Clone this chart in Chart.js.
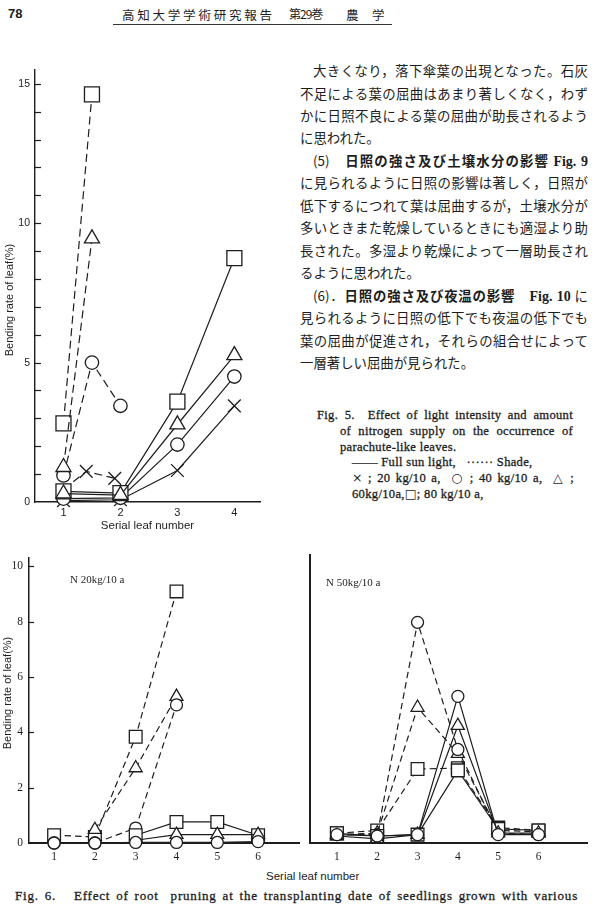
<!DOCTYPE html>
<html lang="ja">
<head>
<meta charset="utf-8">
<title>Fig. 5 / Fig. 6</title>
<script src="https://cdn.jsdelivr.net/npm/chart.js@4.4.1/dist/chart.umd.min.js"></script>
<style>
  html, body { margin: 0; padding: 0; background: #fff; }
  body { width: 598px; height: 907px; position: relative; overflow: hidden; color: #1d1d1d; }
  canvas { position: absolute; }
  .t { position: absolute; white-space: nowrap; }
  .jp { font-family: "Noto Sans CJK JP", sans-serif; font-size: 13.4px; line-height: 22px; height: 22px;
        text-align: justify; text-align-last: justify; }
  .jp.short { text-align-last: left; }
  .jp b { font-weight: 700; }
  .jp .f { font-family: "Liberation Serif", serif; font-weight: 700; font-size: 14px; }
  .en { font-family: "Liberation Serif", serif; font-size: 12.6px; line-height: 16px; height: 16px;
        text-align: justify; text-align-last: justify; -webkit-text-stroke: 0.3px #1d1d1d; letter-spacing: 0.3px; }
  .en.short { text-align-last: left; }
  .en .s { font-family: "DejaVu Sans", sans-serif; font-size: 12.5px; -webkit-text-stroke: 0; }
  .lab { font-family: "Liberation Serif", serif; font-size: 11px; line-height: 14px; }
</style>
</head>
<body>

<!-- page header -->
<div class="t" style="left:8px;top:6px;font:bold 13px 'Liberation Sans',sans-serif;">78</div>
<div class="t" style="left:122px;top:5px;width:150px;font:12.5px 'Noto Sans CJK JP';text-align:justify;text-align-last:justify;">高知大学学術研究報告</div>
<div class="t" style="left:289px;top:5px;font:12px 'Noto Sans CJK JP';letter-spacing:-1px;">第29巻</div>
<div class="t" style="left:346px;top:5px;font:12.5px 'Noto Sans CJK JP';">農</div>
<div class="t" style="left:372px;top:5px;font:12.5px 'Noto Sans CJK JP';">学</div>
<div class="t" style="left:113px;top:24px;width:279px;border-top:1.2px solid #333;"></div>

<!-- body text -->
<div class="t jp" style="left:313px;top:59px;width:275px;">大きくなり，落下傘葉の出現となった。石灰</div>
<div class="t jp" style="left:300px;top:81.5px;width:288px;">不足による葉の屈曲はあまり著しくなく，わず</div>
<div class="t jp" style="left:300px;top:104px;width:288px;">かに日照不良による葉の屈曲が助長されるよう</div>
<div class="t jp short" style="left:300px;top:126.4px;">に思われた。</div>
<div class="t jp" style="left:313px;top:148.8px;width:275px;">(5)　<b>日照の強さ及び土壌水分の影響</b> <span class="f">Fig. 9</span></div>
<div class="t jp" style="left:300px;top:171.3px;width:288px;">に見られるように日照の影響は著しく，日照が</div>
<div class="t jp" style="left:300px;top:193.8px;width:288px;">低下するにつれて葉は屈曲するが，土壌水分が</div>
<div class="t jp" style="left:300px;top:216.2px;width:288px;">多いときまた乾燥しているときにも適湿より助</div>
<div class="t jp" style="left:300px;top:238.7px;width:288px;">長された。多湿より乾燥によって一層助長され</div>
<div class="t jp short" style="left:300px;top:261.1px;">るように思われた。</div>
<div class="t jp" style="left:313px;top:283.6px;width:275px;">(6)．<b>日照の強さ及び夜温の影響</b>　<span class="f">Fig. 10</span> に</div>
<div class="t jp" style="left:300px;top:306px;width:288px;">見られるように日照の低下でも夜温の低下でも</div>
<div class="t jp" style="left:300px;top:328.5px;width:288px;">葉の屈曲が促進され，それらの組合せによって</div>
<div class="t jp short" style="left:300px;top:351px;">一層著しい屈曲が見られた。</div>

<!-- Fig. 5 caption -->
<div class="t en" style="left:317px;top:407px;width:256px;">Fig. 5.&nbsp; Effect of light intensity and amount</div>
<div class="t en" style="left:340px;top:423px;width:233px;">of nitrogen supply on the occurrence of</div>
<div class="t en short" style="left:340px;top:438.6px;">parachute-like leaves.</div>
<div class="t en short" style="left:352px;top:454.4px;">—— Full sun light,&nbsp;&nbsp; ······ Shade,</div>
<div class="t en" style="left:352px;top:470.2px;width:222px;"><span class="s">×</span> ; 20 kg/10 a,&nbsp; <span class="s">○</span> ; 40 kg/10 a,&nbsp; <span class="s">△</span> ;</div>
<div class="t en short" style="left:352px;top:486px;">60kg/10a,<span class="s">□</span>; 80 kg/10 a,</div>

<canvas id="fig5" width="280" height="477" style="left:0;top:58px;"></canvas>
<canvas id="fig6a" width="310" height="322" style="left:0;top:545px;"></canvas>
<canvas id="fig6b" width="298" height="322" style="left:300px;top:545px;"></canvas>

<div class="t lab" style="left:70px;top:572px;">N 20kg/10 a</div>
<div class="t lab" style="left:326px;top:575px;">N 50kg/10 a</div>
<div class="t" style="left:266px;top:870px;font:11.5px 'Liberation Sans',sans-serif;">Serial leaf number</div>
<div class="t en" style="left:15px;top:888px;width:563px;font-size:13px;letter-spacing:0.8px;">Fig. 6.&nbsp;&nbsp; Effect of root&nbsp; pruning at the transplanting date of seedlings grown with various</div>

<script>
// ---------- Fig. 5 data ----------
const fig5Leaves = [1, 2, 3, 4];
const fig5YTicks = [0, 1, 2, 3, 4, 5, 6, 7, 8, 9, 10, 11, 12, 13, 14, 15];
// full sun light (solid)
const sunCross    = [0.05, 0.08, 1.13, 3.45];
const sunCircle   = [0.12, 0.15, 2.06, 4.5];
const sunTriangle = [0.3, 0.25, 2.78, 5.26];
const sunSquare   = [0.38, 0.32, 3.6, 8.75];
// shade (dashed)
const shadeLeaves      = [1, 1.5, 2];
const shadeCrossLeaves = [1, 1.4, 1.9];
const shadeCross    = [0.45, 1.1, 0.85];
const shadeCircle   = [0.95, 5.0, 3.45];
const shadeTriangle = [1.25, 9.45, null];
const shadeSquare   = [2.82, 14.62, null];

// ---------- Fig. 6 data ----------
const fig6Leaves = [1, 2, 3, 4, 5, 6];
const fig6YTicks = [0, 2, 4, 6, 8, 10];
// N 20kg/10 a
const n20DashSquare   = [0.28, 0.22, 3.84, 9.09, null, null];
const n20DashTriangle = [null, 0.48, 2.71, 5.29, null, null];
const n20DashCircle   = [0, 0, 0.54, 4.99, null, null];
const n20SunSquare    = [null, null, 0.28, 0.76, 0.76, 0.28];
const n20SunTriangle  = [null, null, 0.1, 0.3, 0.3, 0.3];
const n20SunCircle    = [0, 0, 0.02, 0.02, 0.02, 0.05];
// N 50kg/10 a
const n50DashCircle   = [0.3, 0.3, 7.9, 3.35, 0.35, 0.3];
const n50DashTriangle = [0.3, 0.35, 4.85, 3.2, 0.45, 0.4];
const n50DashSquare   = [0.35, 0.45, 2.65, 2.68, 0.55, 0.45];
const n50SunCircle    = [0.3, 0.25, 0.3, 5.25, 0.3, 0.3];
const n50SunTriangle  = [0.25, 0.15, 0.3, 4.2, 0.35, 0.35];
const n50SunSquare    = [0.35, 0.25, 0.3, 2.6, 0.5, 0.45];

const INK = '#1d1d1d';

// one line with its markers
function series(xs, ys, style, size, dash) {
    return {
        data: xs.map((x, i) => ({ x: x, y: ys[i] })),
        borderColor: INK,
        borderWidth: 1.2,
        borderDash: dash || [],
        pointStyle: style,
        pointRadius: size,
        pointHoverRadius: size,
        pointBorderColor: INK,
        pointBackgroundColor: '#fff',
        pointBorderWidth: 1.3,
        fill: false,
        tension: 0,
        clip: false
    };
}

// short tick marks pointing into the plot
const inTicks = {
    id: 'inTicks',
    afterDraw(chart, args, opts) {
        if (!opts.len) return;
        const { ctx, chartArea } = chart;
        const y = chart.scales.y;
        ctx.save();
        ctx.strokeStyle = INK;
        ctx.lineWidth = 1.2;
        y.ticks.forEach(t => {
            if (t.value === 0) return;
            const py = Math.round(y.getPixelForValue(t.value)) + 0.5;
            ctx.beginPath();
            ctx.moveTo(chartArea.left, py);
            ctx.lineTo(chartArea.left + opts.len, py);
            ctx.stroke();
        });
        ctx.restore();
    }
};

// rotated y-axis title, placed where the printed one sits
const sideTitle = {
    id: 'sideTitle',
    afterDraw(chart, args, opts) {
        if (!opts.text) return;
        const ctx = chart.ctx;
        ctx.save();
        ctx.translate(opts.x, opts.y);
        ctx.rotate(-Math.PI / 2);
        ctx.fillStyle = INK;
        ctx.font = opts.font;
        ctx.textAlign = 'center';
        ctx.textBaseline = 'middle';
        ctx.fillText(opts.text, 0, 0);
        ctx.restore();
    }
};

const common = {
    responsive: false,
    animation: false,
    devicePixelRatio: 1,
    events: []
};

// ========================================================
// Fig. 5 — light intensity x nitrogen
// ========================================================
const dash5 = [8, 4.5];
new Chart(document.getElementById('fig5'), {
    type: 'line',
    data: {
        datasets: [
            series(fig5Leaves, sunTriangle, 'triangle', 8.7),
            series(fig5Leaves, sunSquare, 'rect', 10.6),
            series(fig5Leaves, sunCircle, 'circle', 6.7),
            series(fig5Leaves, sunCross, 'crossRot', 9),
            Object.assign(series(shadeCrossLeaves, shadeCross, 'crossRot', 9, dash5), { pointRadius: [0, 9, 9] }),
            series(shadeLeaves, shadeTriangle, 'triangle', 8.7, dash5),
            series(shadeLeaves, shadeCircle, 'circle', 6.7, dash5),
            series(shadeLeaves, shadeSquare, 'rect', 10.6, dash5)
        ]
    },
    options: Object.assign({}, common, {
        layout: { padding: { top: 9.5, right: 20, left: 0, bottom: 0 } },
        plugins: {
            legend: { display: false }, tooltip: { enabled: false }, inTicks: { len: 6 },
            sideTitle: { text: 'Bending rate of leaf(%)', x: 10, y: 242, font: '11px "Liberation Sans"' }
        },
        scales: {
            x: {
                type: 'linear', min: 0.5, max: 4.45,
                afterBuildTicks: s => { s.ticks = fig5Leaves.map(v => ({ value: v })); },
                afterFit: s => { s.height = 33; },
                grid: { display: false, drawTicks: false },
                border: { color: INK, width: 1.4 },
                ticks: { color: INK, padding: 4, maxRotation: 0, autoSkip: false,
                         font: { family: 'Liberation Sans', size: 11 } },
                title: { display: true, text: 'Serial leaf number', color: INK,
                         font: { family: 'Liberation Sans', size: 11.5 }, padding: { top: 0, bottom: 2 } }
            },
            y: {
                min: 0, max: 15.5,
                afterBuildTicks: s => { s.ticks = fig5YTicks.map(v => ({ value: v })); },
                afterFit: s => { s.width = 35; },
                grid: { display: false, drawTicks: false },
                border: { color: INK, width: 1.4 },
                ticks: { color: INK, padding: 5, autoSkip: false,
                         callback: v => (v % 5 === 0 ? String(v) : ''),
                         font: { family: 'Liberation Sans', size: 10.5 } }
            }
        }
    }),
    plugins: [inTicks, sideTitle]
});

// ========================================================
// Fig. 6 — two panels, shared axis look
// ========================================================
const dash6 = [6.5, 4];
function fig6Options(xMin, xMax, yWidth, withLabels) {
    return Object.assign({}, common, {
        layout: { padding: { top: 10, right: 0, left: 0, bottom: 0 } },
        plugins: {
            legend: { display: false }, tooltip: { enabled: false }, inTicks: { len: withLabels ? 5 : 0 },
            sideTitle: withLabels ? { text: 'Bending rate of leaf(%)', x: 8, y: 148, font: '11px "Liberation Sans"' } : {}
        },
        scales: {
            x: {
                type: 'linear', min: xMin, max: xMax,
                afterBuildTicks: s => { s.ticks = fig6Leaves.map(v => ({ value: v })); },
                afterFit: s => { s.height = 24; },
                grid: { display: false, drawTicks: false },
                border: { color: INK, width: 2 },
                ticks: { color: INK, padding: 7, maxRotation: 0, autoSkip: false,
                         font: { family: 'Liberation Serif', size: 11.5 } }
            },
            y: {
                min: 0, max: 10.3,
                afterBuildTicks: s => { s.ticks = fig6YTicks.map(v => ({ value: v })); },
                afterFit: s => { s.width = yWidth; },
                grid: { display: false, drawTicks: false },
                border: { color: INK, width: withLabels ? 1.5 : 2 },
                ticks: { display: withLabels, color: INK, padding: 6, autoSkip: false,
                         font: { family: 'Liberation Serif', size: 11.5 } }
            }
        }
    });
}

new Chart(document.getElementById('fig6a'), {
    type: 'line',
    data: {
        datasets: [
            series(fig6Leaves, n20SunCircle, 'circle', 6),
            Object.assign(series(fig6Leaves, n20SunTriangle, 'triangle', 7.5), { pointRadius: [0, 0, 0, 7.5, 7.5, 7.5] }),
            series(fig6Leaves, n20SunSquare, 'rect', 9),
            series(fig6Leaves, n20DashCircle, 'circle', 6, dash6),
            series(fig6Leaves, n20DashTriangle, 'triangle', 7.5, dash6),
            series(fig6Leaves, n20DashSquare, 'rect', 9, dash6)
        ]
    },
    options: fig6Options(0.385, 7.02, 29, true),
    plugins: [inTicks, sideTitle]
});

new Chart(document.getElementById('fig6b'), {
    type: 'line',
    data: {
        datasets: [
            series(fig6Leaves, n50SunCircle, 'circle', 6),
            series(fig6Leaves, n50SunTriangle, 'triangle', 7.5),
            series(fig6Leaves, n50SunSquare, 'rect', 9),
            series(fig6Leaves, n50DashCircle, 'circle', 6, dash6),
            series(fig6Leaves, n50DashTriangle, 'triangle', 7.5, dash6),
            series(fig6Leaves, n50DashSquare, 'rect', 9, dash6)
        ]
    },
    options: fig6Options(0.34, 7.22, 9.5, false),
    plugins: [inTicks, sideTitle]
});
</script>
</body>
</html>
